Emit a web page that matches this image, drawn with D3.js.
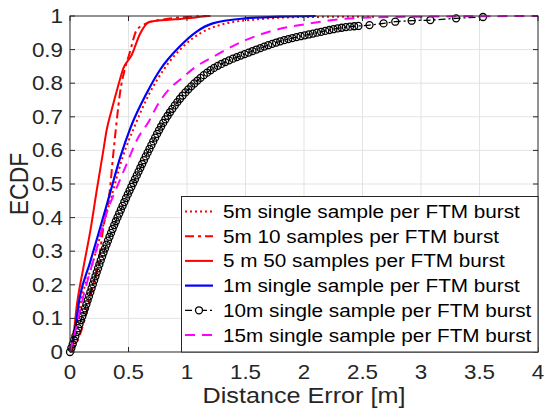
<!DOCTYPE html>
<html>
<head>
<meta charset="utf-8">
<script src="https://cdn.jsdelivr.net/npm/d3@7"></script>
<style>
  body { margin: 0; background: #fff; }
  svg { display: block; font-family: "Liberation Sans", Arial, sans-serif; }
</style>
</head>
<body>
<div id="chart"></div>
<script>
// ticks
const xTicks = [0, 0.5, 1, 1.5, 2, 2.5, 3, 3.5, 4];
const yTicks = [0, 0.1, 0.2, 0.3, 0.4, 0.5, 0.6, 0.7, 0.8, 0.9, 1];

const seriesNames = [
    "5m single sample per FTM burst",
    "5m 10 samples per FTM burst",
    "5 m 50 samples per FTM burst",
    "1m single sample per FTM burst",
    "10m single sample per FTM burst",
    "15m single sample per FTM burst"
];

// [distance error, ecdf]
const fiveSingle = [[0,0],[0.04,0.04],[0.1,0.16],[0.19,0.26],[0.27,0.36],[0.36,0.47],[0.45,0.58],[0.55,0.67],
    [0.68,0.77],[0.8,0.84],[0.97,0.91],[1.12,0.95],[1.3,0.975],[1.6,0.99],[2.0,0.997],[2.6,0.998]];
const fiveTen = [[0,0],[0.06,0.03],[0.12,0.09],[0.19,0.19],[0.24,0.26],[0.285,0.37],[0.34,0.48],[0.37,0.59],
    [0.40,0.69],[0.427,0.77],[0.47,0.844],[0.51,0.89],[0.57,0.958],[0.655,0.978],[0.8,0.99],[1.0,0.997],[1.2,1]];
const fiveFifty = [[0,0],[0.03,0.05],[0.057,0.135],[0.114,0.25],[0.175,0.363],[0.228,0.48],[0.285,0.6],[0.313,0.66],
    [0.356,0.72],[0.41,0.79],[0.456,0.844],[0.527,0.884],[0.6,0.948],[0.68,0.983],[0.9,0.99],[1.05,0.995],[1.17,1]];
const oneSingle = [[0,0],[0.03,0.04],[0.085,0.165],[0.17,0.265],[0.25,0.36],[0.34,0.47],[0.43,0.58],[0.52,0.67],
    [0.655,0.77],[0.77,0.84],[0.94,0.91],[1.08,0.953],[1.22,0.978],[1.5,0.993],[1.8,0.998],[2.1,1]];
const tenSingle = [[0,0],[0.02,0.02],[0.06,0.062],[0.114,0.115],[0.185,0.19],[0.26,0.27],[0.34,0.345],[0.456,0.44],
    [0.57,0.525],[0.68,0.605],[0.785,0.675],[0.92,0.745],[1.08,0.805],[1.22,0.843],[1.36,0.868],[1.51,0.889],
    [1.79,0.924],[2.08,0.948],[2.36,0.967],[2.56,0.973],[2.68,0.978],[2.78,0.983],[2.92,0.986],[3.08,0.988],
    [3.3,0.993],[3.53,0.997]];
const fifteenSingle = [[0,0],[0.04,0.055],[0.114,0.165],[0.23,0.31],[0.31,0.41],[0.4,0.49],[0.485,0.56],[0.57,0.63],
    [0.68,0.69],[0.74,0.73],[0.855,0.785],[0.94,0.81],[1.08,0.85],[1.22,0.878],[1.5,0.928],[1.75,0.958],
    [2.0,0.975],[2.3,0.99],[2.6,0.996],[3.0,0.998],[4.0,1]];

const seriesData = [fiveSingle, fiveTen, fiveFifty, oneSingle, tenSingle, fifteenSingle];

// line styles per series
const styles = [
    { color: "#ff0000", width: 2, dash: "2,3" },
    { color: "#ff0000", width: 2, dash: "9,4,3,4" },
    { color: "#ff0000", width: 2, dash: null },
    { color: "#0000ff", width: 2.2, dash: null },
    { color: "#000000", width: 1.3, dash: "7,3,2,3", marker: true },
    { color: "#ff00ff", width: 2, dash: "10,7" }
];

const W = 544, H = 409;
const SX = 1.12; // glyphs in the picture are a bit wide
const mLeft = 70, mRight = 538, mTop = 16, mBottom = 352;
const axisColor = "#262626";

const svg = d3.select("#chart").append("svg")
    .attr("width", W)
    .attr("height", H);

const x = d3.scaleLinear().domain([0, 4]).range([mLeft, mRight]);
const y = d3.scaleLinear().domain([0, 1]).range([mBottom, mTop]);

// grid
svg.append("g").selectAll("line").data(xTicks.slice(1, -1)).join("line")
    .attr("x1", d => x(d)).attr("x2", d => x(d))
    .attr("y1", mTop).attr("y2", mBottom)
    .attr("stroke", "#e3e3e3").attr("stroke-width", 1);
svg.append("g").selectAll("line").data(yTicks.slice(1, -1)).join("line")
    .attr("x1", mLeft).attr("x2", mRight)
    .attr("y1", d => y(d)).attr("y2", d => y(d))
    .attr("stroke", "#e3e3e3").attr("stroke-width", 1);

// series
const plot = svg.append("g");
const line = d3.line().x(d => x(d[0])).y(d => y(d[1])).curve(d3.curveMonotoneX);

seriesData.forEach((data, i) => {
    const st = styles[i];
    const path = plot.append("path")
        .datum(data)
        .attr("d", line)
        .attr("fill", "none")
        .attr("stroke", st.color)
        .attr("stroke-width", st.width)
        .attr("stroke-dasharray", st.dash);

    if (st.marker) {
        // dense markers along the line, then the sparse tail points
        const node = path.node();
        const total = node.getTotalLength();
        const pts = [];
        const cut = x(2.5);
        for (let l = 0; l <= total; l += 4.2) {
            const p = node.getPointAtLength(l);
            if (p.x > cut) break;
            pts.push([p.x, p.y]);
        }
        data.filter(d => d[0] > 2.5).forEach(d => pts.push([x(d[0]), y(d[1])]));
        plot.append("g").selectAll("circle").data(pts).join("circle")
            .attr("cx", d => d[0]).attr("cy", d => d[1]).attr("r", 3.5)
            .attr("fill", "none").attr("stroke", "#000").attr("stroke-width", 1.3);
    }
});

// box + ticks
svg.append("rect")
    .attr("x", mLeft).attr("y", mTop)
    .attr("width", mRight - mLeft).attr("height", mBottom - mTop)
    .attr("fill", "none").attr("stroke", axisColor).attr("stroke-width", 1);

const tk = svg.append("g").attr("stroke", axisColor).attr("stroke-width", 1);
xTicks.forEach(t => {
    tk.append("line").attr("x1", x(t)).attr("x2", x(t)).attr("y1", mBottom).attr("y2", mBottom - 5);
    tk.append("line").attr("x1", x(t)).attr("x2", x(t)).attr("y1", mTop).attr("y2", mTop + 5);
});
yTicks.forEach(t => {
    tk.append("line").attr("x1", mLeft).attr("x2", mLeft + 5).attr("y1", y(t)).attr("y2", y(t));
    tk.append("line").attr("x1", mRight).attr("x2", mRight - 5).attr("y1", y(t)).attr("y2", y(t));
});

function label(px, py, str, size, anchor, rot){
    const g = svg.append("g")
        .attr("transform", "translate(" + px + "," + py + ") scale(" + SX + ",1)" + (rot ? " rotate(" + rot + ")" : ""));
    g.append("text")
        .attr("text-anchor", anchor)
        .attr("font-size", size)
        .attr("fill", axisColor)
        .text(str);
    return g;
}

const fmt = d => String(d);
xTicks.forEach(t => label(x(t), 379, fmt(t), 20, "middle"));
yTicks.forEach(t => label(63, y(t) + 7, fmt(t), 20, "end"));

label(x(2), 403, "Distance Error [m]", 22.5, "middle");
label(28, (mTop + mBottom) / 2, "ECDF", 23, "middle", -90);

// legend
const lg = svg.append("g");
lg.append("rect")
    .attr("x", 181.5).attr("y", 196.5)
    .attr("width", mRight - 181.5).attr("height", mBottom - 196.5)
    .attr("fill", "#fff").attr("stroke", axisColor).attr("stroke-width", 1);

seriesNames.forEach((name, i) => {
    const st = styles[i];
    const cy = 211.5 + i * 24.7;
    lg.append("line")
        .attr("x1", 185).attr("x2", 213).attr("y1", cy).attr("y2", cy)
        .attr("stroke", st.color).attr("stroke-width", st.width)
        .attr("stroke-dasharray", st.dash);
    if (st.marker) {
        lg.append("circle").attr("cx", 199).attr("cy", cy).attr("r", 3.5)
            .attr("fill", "#fff").attr("stroke", "#000").attr("stroke-width", 1.3);
    }
    const g = lg.append("g").attr("transform", "translate(223," + (cy + 6.5) + ") scale(" + SX + ",1)");
    g.append("text").attr("font-size", 18.5).attr("fill", "#000").text(name);
});
</script>
</body>
</html>
